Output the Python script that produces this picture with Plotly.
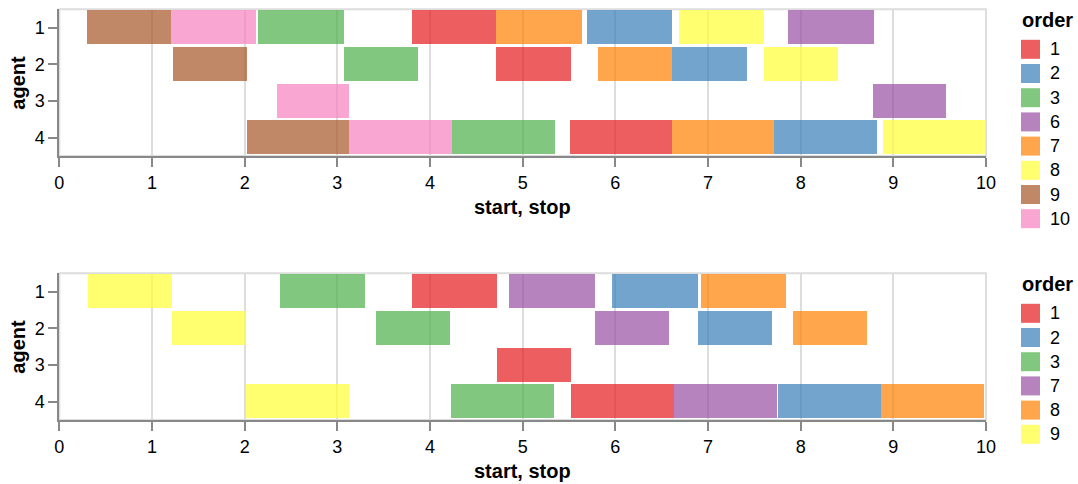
import plotly.graph_objects as go

# ---------------- data ----------------
# top chart
agent_a = [1, 1, 1, 1, 1, 1, 1, 1,
           2, 2, 2, 2, 2, 2,
           3, 3,
           4, 4, 4, 4, 4, 4, 4]
order_a = [9, 10, 3, 1, 7, 2, 8, 6,
           9, 3, 1, 7, 2, 8,
           10, 6,
           9, 10, 3, 1, 7, 2, 8]
start_a = [0.30, 1.21, 2.15, 3.81, 4.72, 5.70, 6.69, 7.87,
           1.23, 3.07, 4.72, 5.82, 6.62, 7.61,
           2.35, 8.78,
           2.03, 3.13, 4.24, 5.51, 6.62, 7.72, 8.89]
stop_a = [1.21, 2.13, 3.07, 4.72, 5.64, 6.62, 7.61, 8.79,
          2.03, 3.87, 5.52, 6.62, 7.42, 8.41,
          3.13, 9.57,
          3.13, 4.24, 5.35, 6.62, 7.72, 8.83, 10.0]
legend_a = [1, 2, 3, 6, 7, 8, 9, 10]

# bottom chart
agent_b = [1, 1, 1, 1, 1, 1,
           2, 2, 2, 2, 2,
           3,
           4, 4, 4, 4, 4, 4]
order_b = [9, 3, 1, 7, 2, 8,
           9, 3, 7, 2, 8,
           1,
           9, 3, 1, 7, 2, 8]
start_b = [0.31, 2.38, 3.81, 4.86, 5.97, 6.93,
           1.22, 3.42, 5.78, 6.89, 7.92,
           4.73,
           2.02, 4.23, 5.53, 6.64, 7.76, 8.87]
stop_b = [1.22, 3.30, 4.73, 5.78, 6.89, 7.85,
          2.02, 4.22, 6.58, 7.69, 8.72,
          5.52,
          3.13, 5.34, 6.64, 7.75, 8.87, 9.98]
legend_b = [1, 2, 3, 7, 8, 9]

agents = [1, 2, 3, 4]
x_ticks = list(range(0, 11))

# scheme "set1"
set1 = ["#e41a1c", "#377eb8", "#4daf4a", "#984ea3", "#ff7f00",
        "#ffff33", "#a65628", "#f781bf", "#999999"]
OPACITY = 0.7


def rgba(hexc, a=OPACITY):
    h = hexc.lstrip("#")
    r, g, b = int(h[0:2], 16), int(h[2:4], 16), int(h[4:6], 16)
    return f"rgba({r},{g},{b},{a})"


W, H = 1078, 484
FONT = "Liberation Sans, Arial, sans-serif"

# page-pixel layout of the two views
X0, X1 = 59.3, 986.0
panels = [
    dict(top=9.3, bottom=156.0, agent=agent_a, order=order_a, start=start_a,
         stop=stop_a, legend=legend_a, xa="x", ya="y"),
    dict(top=273.3, bottom=420.0, agent=agent_b, order=order_b, start=start_b,
         stop=stop_b, legend=legend_b, xa="x2", ya="y2"),
]


def px_x(p):
    return p / W


def px_y(p):
    return 1 - p / H


fig = go.Figure()
shapes = []
annotations = []

for i, pnl in enumerate(panels):
    domain_map = {o: set1[k] for k, o in enumerate(pnl["legend"])}
    for o in pnl["legend"]:
        idx = [j for j, v in enumerate(pnl["order"]) if v == o]
        fig.add_trace(go.Bar(
            orientation="h",
            y=[pnl["agent"][j] for j in idx],
            base=[pnl["start"][j] for j in idx],
            x=[pnl["stop"][j] - pnl["start"][j] for j in idx],
            width=0.92,
            marker=dict(color=rgba(domain_map[o]), line=dict(width=0)),
            name=str(o),
            showlegend=False,
            xaxis=pnl["xa"], yaxis=pnl["ya"],
            hoverinfo="skip",
        ))

    # view border (light gray)
    shapes.append(dict(type="rect", xref="paper", yref="paper",
                       x0=px_x(X0), x1=px_x(X1),
                       y0=px_y(pnl["bottom"]), y1=px_y(pnl["top"]),
                       line=dict(color="#dddddd", width=2), layer="below"))

    # axis titles
    mid_y = (pnl["top"] + pnl["bottom"]) / 2
    annotations.append(dict(text="<b>agent</b>", xref="paper", yref="paper",
                            x=px_x(18), y=px_y(mid_y), textangle=-90,
                            xanchor="center", yanchor="middle", showarrow=False,
                            font=dict(family=FONT, size=20, color="#000")))
    annotations.append(dict(text="<b>start, stop</b>", xref="paper", yref="paper",
                            x=px_x((X0 + X1) / 2), y=px_y(pnl["bottom"] + 51),
                            xanchor="center", yanchor="middle", showarrow=False,
                            font=dict(family=FONT, size=20, color="#000")))

    # legend
    off = pnl["top"] - 9.3
    annotations.append(dict(text="<b>order</b>", xref="paper", yref="paper",
                            x=px_x(1020), y=px_y(20 + off),
                            xanchor="left", yanchor="middle", showarrow=False,
                            font=dict(family=FONT, size=20, color="#000")))
    for k, o in enumerate(pnl["legend"]):
        cy = 49.3 + off + 24.2 * k
        shapes.append(dict(type="rect", xref="paper", yref="paper",
                           x0=px_x(1021), x1=px_x(1040),
                           y0=px_y(cy + 9.5), y1=px_y(cy - 9.5),
                           fillcolor=rgba(domain_map[o]), line=dict(width=0)))
        annotations.append(dict(text=str(o), xref="paper", yref="paper",
                                x=px_x(1048), y=px_y(cy),
                                xanchor="left", yanchor="middle", showarrow=False,
                                font=dict(family=FONT, size=18, color="#000")))

axis_common_x = dict(
    range=[0, 10], tickvals=x_ticks, ticktext=[str(v) for v in x_ticks],
    showgrid=True, gridcolor="#dddddd", gridwidth=2,
    showline=True, linecolor="#888888", linewidth=2,
    ticks="outside", ticklen=9, tickwidth=2, tickcolor="#888888",
    tickfont=dict(family=FONT, size=18, color="#000"),
    zeroline=False, fixedrange=True, automargin=False,
)
axis_common_y = dict(
    range=[4.5, 0.5], tickvals=agents, ticktext=[str(a) for a in agents],
    showgrid=False,
    showline=True, linecolor="#888888", linewidth=2,
    ticks="outside", ticklen=9, tickwidth=2, tickcolor="#888888",
    tickfont=dict(family=FONT, size=18, color="#000"),
    zeroline=False, fixedrange=True, automargin=False,
)

fig.update_layout(
    width=W, height=H, autosize=False,
    margin=dict(l=0, r=0, t=0, b=0, pad=0),
    paper_bgcolor="white", plot_bgcolor="white",
    barmode="overlay", bargap=0,
    showlegend=False,
    font=dict(family=FONT, size=18, color="#000"),
    xaxis=dict(domain=[px_x(X0), px_x(X1)], anchor="y", **axis_common_x),
    yaxis=dict(domain=[px_y(panels[0]["bottom"]), px_y(panels[0]["top"])],
               anchor="x", **axis_common_y),
    xaxis2=dict(domain=[px_x(X0), px_x(X1)], anchor="y2", **axis_common_x),
    yaxis2=dict(domain=[px_y(panels[1]["bottom"]), px_y(panels[1]["top"])],
                anchor="x2", **axis_common_y),
    shapes=shapes,
    annotations=annotations,
)

# remove the default page margin so the figure fills the window exactly
post = ("document.documentElement.style.margin='0';"
        "document.documentElement.style.overflow='hidden';"
        "document.body.style.margin='0';"
        "document.body.style.padding='0';"
        "document.body.style.overflow='hidden';")

fig.write_html("out.html", config={"responsive": False, "displayModeBar": False},
               post_script=post)
